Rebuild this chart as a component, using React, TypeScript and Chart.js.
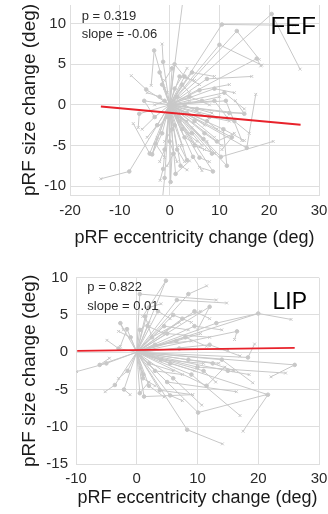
import React, { useEffect, useRef } from "react";
import { Chart, registerables } from "chart.js";
Chart.register(...registerables);

// ---------- DATA ----------
// FEF: each trajectory runs origin -> mid point (dot) -> end point (x)
const fefMidX = [-8.1, -4.0, -3.1, -1.3, -4.7, -6.1, -5.1, -3.5, -1.3, -1.0, 0.2, 1.2, 2.8, 4.7, 8.7, 10.3, 11.5, 15.5, 7.5, 17.5, 10.0, 10.5, 20.5, 13.5, 15.0, 11.3, 6.0, 5.0, 3.0, 2.0, 1.0, 0.5, -2.0, -3.0, -1.5, 0.0, 1.5, 3.5, 6.5, 8.0, 9.0, 4.0, 2.0, -0.5, 5.0, 7.0, 3.0, 1.0, -2.0, 12.0, 9.5, 6.0, 2.5, 0.8, -2.5, 4.5, 11.0, 13.0, 1.5, -1.0, 10.8, 3.5, -2.8, 6.8, 1.0, -1.0, 2.2, 4.5, 7.5, 5.5, 9.0, 1.5, -1.5, 2.5, 3.0, 0.5, 8.5, 12.5];
const fefMidY = [-8.2, -6.0, 6.7, 5.3, 1.9, -1.1, 0.5, -6.1, -7.9, -9.0, -9.5, -8.5, 13.5, -6.4, -8.2, -6.4, -7.5, -5.3, 3.2, 5.7, 7.4, 9.9, 11.2, 9.1, -1.1, 0.5, 1.8, -2.0, -4.0, 3.5, 2.0, 4.5, 1.0, -1.5, -3.5, -4.5, -5.5, -1.0, 0.5, -1.5, 2.0, 1.0, -2.0, -1.5, -5.0, -3.5, 3.5, 5.0, 4.0, -1.0, -4.5, -6.5, -3.0, -6.0, -2.5, 4.0, 1.5, -2.0, 1.0, 0.5, -3.0, -6.8, -4.8, -4.2, -2.5, -5.5, -7.5, -3.5, -2.0, -0.5, 0.5, -1.5, 2.5, 2.5, 0.0, -3.0, -6.0, -4.0];
const fefEndX = [-13.8, -7.3, -3.7, -1.5, -7.7, -6.3, -3.0, -2.5, -1.9, -1.5, 0.5, 4.0, 3.0, 6.5, 6.0, 20.8, 10.8, 17.3, 16.5, 18.3, 18.5, 25.0, 26.2, 18.0, 13.2, 14.5, 12.0, 9.0, 7.0, 5.0, 3.5, -1.0, -4.5, -5.5, -3.5, 1.5, 3.0, 7.0, 10.0, 12.0, 13.0, 8.0, 4.0, -2.0, 9.0, 10.5, 6.0, 3.0, -1.0, 15.0, 13.0, 8.0, 5.5, -0.5, -4.5, 9.0, 15.0, 16.0, 4.0, -3.0, 15.0, 2.0, -1.0, 4.5, 2.5, -2.0, 3.5, 6.5, 9.5, 8.5, 11.5, 3.5, -0.5, 4.0, 6.0, -1.0, 7.5, 10.5];
const fefEndY = [-9.1, -2.3, 2.4, 7.5, 3.6, -2.8, -1.5, -4.0, -9.3, -12.0, -6.0, -6.9, 14.5, -8.1, -7.7, -4.5, -3.0, 1.3, 3.5, 4.8, 4.9, 9.8, 4.4, 5.6, 0.5, -4.4, 2.5, -4.0, -5.5, 3.0, 4.5, 3.0, 1.5, -3.0, -6.1, -7.0, -7.0, -2.5, 1.0, -2.0, 1.5, 0.0, -3.5, -2.5, -6.0, -5.0, 2.5, 3.5, 2.0, -1.0, -3.5, -7.0, -4.5, -7.5, -4.0, 3.5, -0.5, -3.5, 0.5, 0.0, -4.4, -5.0, -6.5, -2.8, -5.0, -7.0, -8.0, -5.0, -3.0, -1.0, -1.5, -2.0, 1.5, 1.5, -1.0, -4.5, -4.5, -5.5];
const fefFitX = [-13.8, 26.3];
const fefFitY = [-0.2, -2.45];
const fefXTicks = [-20, -10, 0, 10, 20, 30];
const fefYTicks = [-10, -5, 0, 5, 10];
const fefStats = ["p = 0.319", "slope = -0.06"];
const fefName = "FEF";

// LIP
const lipMidX = [-5.0, -3.0, -6.1, -3.6, -2.1, -2.7, -1.6, 1.2, 1.4, 1.1, 0.5, 4.8, 8.5, 6.6, 12.0, 13.1, 20.0, 16.5, 18.3, 14.0, 26.0, 10.0, 21.6, 9.0, 10.1, 8.3, 5.0, 3.8, 6.0, 2.5, 3.0, 5.0, 4.0, 7.0, 2.0, 1.0, 6.0, 3.5, 8.0, 11.0, -1.0, 0.5, 12.0, 5.5, 2.0, 9.5, 15.0, -1.5, 0.5, 11.5, 4.5, 6.5, 8.5, 3.0, 5.5, 1.8, 7.5, 2.0, 12.5, 9.5];
const lipMidY = [-1.5, 0.5, -1.7, -4.4, -5.0, 3.9, 3.1, -5.95, 4.8, -3.0, 7.8, 9.6, 7.8, 7.0, 6.1, 3.9, 5.2, 2.8, -0.7, -1.0, -1.7, -2.0, -5.7, -3.0, -8.1, -10.4, -4.0, -5.1, -3.5, 2.0, 1.0, 2.5, -1.0, 0.5, -1.5, -3.5, 5.0, 5.5, 2.0, -2.5, 2.0, 3.0, 1.0, -5.8, 6.0, 5.5, -2.5, -2.5, -5.5, -4.5, 3.5, 1.5, -1.0, -2.5, -1.5, 3.5, 4.5, -4.5, -1.5, 3.5];
const lipEndX = [-9.9, -4.9, -4.5, -5.2, -1.1, -2.2, -2.7, 9.2, 2.5, 0.5, 13.1, 1.0, 11.5, 14.8, 10.0, 20.0, 25.4, 16.1, 19.4, 19.1, 22.1, 24.5, 17.5, 17.0, 21.3, 14.1, 16.4, 9.2, 10.7, 7.0, 9.0, 12.0, 11.0, 15.0, 6.0, 3.0, 9.0, 5.5, 11.5, 13.0, -3.0, 2.0, 17.0, 7.5, 4.0, 12.0, 18.5, -3.0, 2.0, 14.5, 8.5, 10.5, 13.5, 7.5, 9.5, 4.5, 10.5, 4.5, 16.0, 14.0];
const lipEndY = [-2.6, 1.6, -0.8, -5.3, -5.7, 3.0, 0.8, -5.7, 2.0, -2.0, 7.0, 4.8, 8.9, 6.6, 3.0, 5.2, 4.4, 1.7, 1.1, -4.1, -3.3, -2.8, -10.6, -8.5, -5.7, -12.3, -5.3, -5.7, -7.1, 4.0, 1.5, 2.0, -1.5, 0.3, -2.5, -4.5, 4.0, 4.5, 0.8, -4.0, 2.8, 4.0, -0.5, -6.5, 6.5, 4.5, -3.0, -3.5, -4.0, -2.0, 3.0, 2.5, -1.5, -3.0, -2.5, 2.5, 5.5, -6.0, -2.5, 3.0];
const lipFitX = [-9.8, 26.0];
const lipFitY = [0.18, 0.58];
const lipXTicks = [-10, 0, 10, 20, 30];
const lipYTicks = [-15, -10, -5, 0, 5, 10];
const lipStats = ["p = 0.822", "slope = 0.01"];
const lipName = "LIP";

const originX = 0;
const originY = 0;

// ---------- STYLE ----------
const FONT = "'Liberation Sans', Arial, sans-serif";
const GRAY = "#c8c8c8";
const RED = "#e8222b";
const GRID = "#dedede";
const TEXT = "#2b2b2b";

type PanelCfg = {
  midX: number[]; midY: number[]; endX: number[]; endY: number[];
  fitX: number[]; fitY: number[];
  xTicks: number[]; yTicks: number[];
  xMin: number; xMax: number; yMin: number; yMax: number;
  stats: string[]; name: string;
  height: number;
  pad: { top: number; right: number; left: number; bottom: number };
  yAxisWidth: number; xAxisHeight: number;
  yTickPad: number; xTickPad: number;
  yTitlePad: number; xTitlePad: number;
  statsX: number; statsY: number[]; nameX: number; nameBase: number; nameSize: number;
};

function buildDatasets(c: PanelCfg) {
  const ds: any[] = [
    {
      data: c.fitX.map((x, i) => ({ x, y: c.fitY[i] })),
      borderColor: RED,
      borderWidth: 1.8,
      pointRadius: 0,
      fill: false,
    },
  ];
  c.midX.forEach((mx, i) => {
    ds.push({
      data: [
        { x: originX, y: originY },
        { x: mx, y: c.midY[i] },
        { x: c.endX[i], y: c.endY[i] },
      ],
      borderColor: GRAY,
      borderWidth: 1,
      pointRadius: [0, 1.8, 2.0],
      pointStyle: ["circle", "circle", "crossRot"],
      pointBackgroundColor: GRAY,
      pointBorderColor: GRAY,
      pointBorderWidth: 1,
      fill: false,
    });
  });
  return ds;
}

function Panel({ cfg, top }: { cfg: PanelCfg; top: number }) {
  const ref = useRef<HTMLCanvasElement | null>(null);
  useEffect(() => {
    if (!ref.current) return;
    const textPlugin = {
      id: "annot",
      afterDraw(chart: any) {
        const ctx = chart.ctx;
        ctx.save();
        ctx.fillStyle = TEXT;
        ctx.font = `13px ${FONT}`;
        ctx.textAlign = "left";
        ctx.textBaseline = "middle";
        cfg.stats.forEach((s, i) => ctx.fillText(s, cfg.statsX, cfg.statsY[i]));
        ctx.fillStyle = "#000";
        ctx.font = `${cfg.nameSize}px ${FONT}`;
        ctx.textBaseline = "alphabetic";
        ctx.fillText(cfg.name, cfg.nameX, cfg.nameBase);
        ctx.restore();
      },
    };
    const chart = new Chart(ref.current, {
      type: "line",
      data: { datasets: buildDatasets(cfg) },
      options: {
        animation: false,
        responsive: false,
        events: [],
        layout: { padding: cfg.pad },
        elements: { line: { tension: 0 } },
        plugins: { legend: { display: false }, tooltip: { enabled: false } },
        scales: {
          x: {
            type: "linear",
            min: cfg.xMin,
            max: cfg.xMax,
            afterBuildTicks: (s: any) => {
              s.ticks = cfg.xTicks.map((v) => ({ value: v }));
            },
            afterFit: (s: any) => {
              s.height = cfg.xAxisHeight;
              s.paddingLeft = 0;
              s.paddingRight = 0;
            },
            grid: { color: GRID, drawTicks: false, lineWidth: 1 },
            border: { display: true, color: GRID, width: 1 },
            ticks: { color: TEXT, font: { family: FONT, size: 15 }, padding: cfg.xTickPad, maxRotation: 0 },
            title: {
              display: true,
              text: "pRF eccentricity change (deg)",
              color: "#1a1a1a",
              font: { family: FONT, size: 18 },
              padding: { top: 0, bottom: cfg.xTitlePad },
            },
          },
          y: {
            type: "linear",
            min: cfg.yMin,
            max: cfg.yMax,
            afterBuildTicks: (s: any) => {
              s.ticks = cfg.yTicks.map((v) => ({ value: v }));
            },
            afterFit: (s: any) => {
              s.width = cfg.yAxisWidth;
              s.paddingTop = 0;
              s.paddingBottom = 0;
            },
            grid: { color: GRID, drawTicks: false, lineWidth: 1 },
            border: { display: true, color: GRID, width: 1 },
            ticks: { color: TEXT, font: { family: FONT, size: 15 }, padding: cfg.yTickPad },
            title: {
              display: true,
              text: "pRF size change (deg)",
              color: "#1a1a1a",
              font: { family: FONT, size: 19 },
              padding: { top: cfg.yTitlePad, bottom: 0 },
            },
          },
        },
      } as any,
      plugins: [textPlugin],
    });
    return () => chart.destroy();
  }, [cfg]);
  return (
    <canvas
      ref={ref}
      width={328}
      height={cfg.height}
      style={{ position: "absolute", left: 0, top, width: 328, height: cfg.height, display: "block" }}
    />
  );
}

const fefCfg: PanelCfg = {
  midX: fefMidX, midY: fefMidY, endX: fefEndX, endY: fefEndY,
  fitX: fefFitX, fitY: fefFitY, xTicks: fefXTicks, yTicks: fefYTicks,
  xMin: -20, xMax: 30, yMin: -11.1, yMax: 12.3,
  stats: fefStats, name: fefName,
  height: 250,
  pad: { top: 5, right: 9, left: 0, bottom: 0 },
  yAxisWidth: 70, xAxisHeight: 55,
  yTickPad: 4, xTickPad: 7,
  yTitlePad: 18.5, xTitlePad: 1.5,
  statsX: 81.7, statsY: [16, 34.3], nameX: 270.5, nameBase: 34.3, nameSize: 24,
};

const lipCfg: PanelCfg = {
  midX: lipMidX, midY: lipMidY, endX: lipEndX, endY: lipEndY,
  fitX: lipFitX, fitY: lipFitY, xTicks: lipXTicks, yTicks: lipYTicks,
  xMin: -10, xMax: 30, yMin: -15, yMax: 10,
  stats: lipStats, name: lipName,
  height: 264,
  pad: { top: 27.7, right: 9, left: 0, bottom: 0 },
  yAxisWidth: 76, xAxisHeight: 50,
  yTickPad: 8, xTickPad: 6,
  yTitlePad: 18.5, xTitlePad: 5.5,
  statsX: 87.3, statsY: [37.7, 56], nameX: 272.5, nameBase: 59.3, nameSize: 23,
};

export default function App() {
  return (
    <div style={{ position: "absolute", left: 0, top: 0, width: 328, height: 514, background: "#fff" }}>
      <Panel cfg={fefCfg} top={0} />
      <Panel cfg={lipCfg} top={250} />
    </div>
  );
}
